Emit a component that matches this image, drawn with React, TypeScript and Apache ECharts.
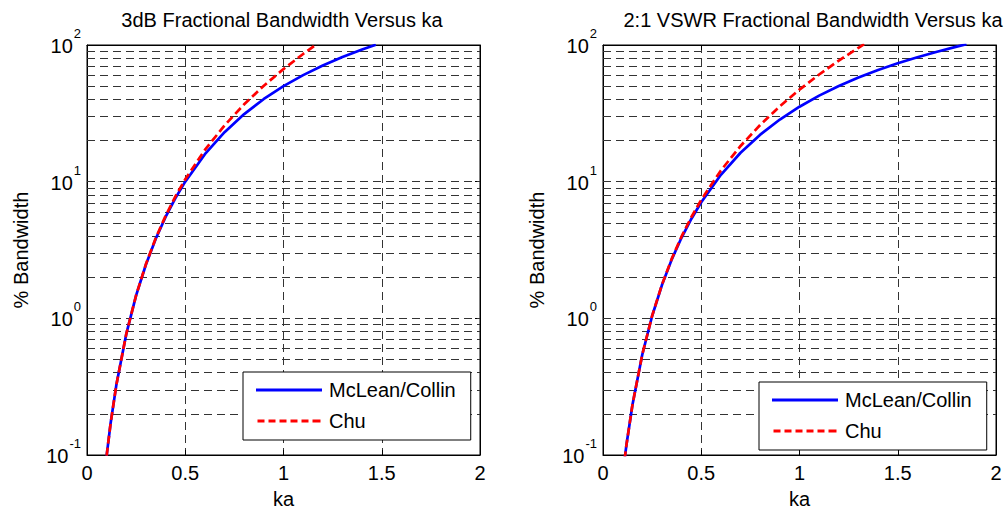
import React, { useEffect, useRef } from "react";
import * as echarts from "echarts";

const titles = ["3dB Fractional Bandwidth Versus ka", "2:1 VSWR Fractional Bandwidth Versus ka"];
const seriesNames = ["McLean/Collin", "Chu"];
const xAxisName = "ka";
const yAxisName = "% Bandwidth";

// Left panel: 3 dB fractional bandwidth (%)
const kaLeftMcLean = [0.1, 0.12, 0.15, 0.2, 0.25, 0.3, 0.35, 0.4, 0.45, 0.5, 0.6, 0.7, 0.8, 0.9, 1.0, 1.1, 1.2, 1.3, 1.4, 1.47];
const bwLeftMcLean = [0.099, 0.17, 0.33, 0.769, 1.471, 2.477, 3.82, 5.517, 7.578, 10.0, 15.88, 23.02, 31.22, 40.27, 50.0, 60.23, 70.82, 81.67, 92.7, 100.5];
const kaLeftChu = [0.1, 0.12, 0.15, 0.2, 0.25, 0.3, 0.35, 0.4, 0.45, 0.5, 0.6, 0.7, 0.8, 0.9, 1.0, 1.1, 1.17];
const bwLeftChu = [0.099, 0.17, 0.33, 0.77, 1.476, 2.494, 3.866, 5.624, 7.8, 10.42, 17.08, 25.81, 36.83, 50.36, 66.67, 86.01, 101.5];

// Right panel: 2:1 VSWR fractional bandwidth (%)
const kaRightMcLean = [0.11, 0.12, 0.15, 0.2, 0.25, 0.3, 0.35, 0.4, 0.45, 0.5, 0.6, 0.7, 0.8, 0.9, 1.0, 1.1, 1.2, 1.3, 1.4, 1.5, 1.6, 1.7, 1.8, 1.85];
const bwRightMcLean = [0.093, 0.1205, 0.2334, 0.5439, 1.04, 1.752, 2.701, 3.901, 5.358, 7.071, 11.23, 16.28, 22.08, 28.48, 35.36, 42.59, 50.08, 57.75, 65.55, 73.43, 81.36, 89.3, 97.26, 101.2];
const kaRightChu = [0.11, 0.12, 0.15, 0.2, 0.25, 0.3, 0.35, 0.4, 0.45, 0.5, 0.6, 0.7, 0.8, 0.9, 1.0, 1.1, 1.2, 1.3, 1.33];
const bwRightChu = [0.093, 0.1205, 0.2335, 0.5448, 1.0435, 1.764, 2.733, 3.977, 5.516, 7.366, 12.08, 18.25, 26.04, 35.61, 47.14, 60.82, 76.84, 95.41, 101.5];

// Log grid lines (minor + major inside the box)
const yGridValues = [0.2, 0.3, 0.4, 0.5, 0.6, 0.7, 0.8, 0.9, 1, 2, 3, 4, 5, 6, 7, 8, 9, 10, 20, 30, 40, 50, 60, 70, 80, 90];
const xMin = 0;
const xMax = 2;
const xInterval = 0.5;
const yMin = 0.1;
const yMax = 100;

const FONT = "'Liberation Sans', Arial, Helvetica, sans-serif";
const FS = 20;

const SOLID_ICON = "path://M0 0H66V3H0Z";
const DASH_ICON = "path://M0 0H7V3H0Z M11 0H18V3H11Z M22 0H29V3H22Z M33 0H40V3H33Z M44 0H51V3H44Z M55 0H63V3H55Z";

const zip = (xs: number[], ys: number[]) => xs.map((x, i) => [x, ys[i]]);

export default function App() {
  const ref = useRef<HTMLDivElement>(null);
  useEffect(() => {
    if (!ref.current) return;
    const chart = echarts.init(ref.current, undefined, { renderer: "svg" });

    const grids = [
      { left: 87, top: 45, width: 393, height: 412 },
      { left: 603, top: 45, width: 393, height: 412 },
    ];

    const yLabel = {
      margin: 6,
      color: "#000",
      fontFamily: FONT,
      showMinLabel: true,
      showMaxLabel: true,
      formatter: (v: number) => {
        const e = Math.round(Math.log10(v));
        return `{b|10}{s|${e}}`;
      },
      rich: {
        b: { fontSize: FS, fontFamily: FONT, color: "#000", padding: [0, 0, 7, 0], verticalAlign: "bottom" },
        s: { fontSize: 13, fontFamily: FONT, color: "#000", padding: [0, 0, 23, 1], verticalAlign: "top" },
      },
    };

    const xAxes: any[] = [];
    const yAxes: any[] = [];
    [0, 1].forEach((g) => {
      xAxes.push({
        type: "value",
        gridIndex: g,
        min: xMin,
        max: xMax,
        interval: xInterval,
        name: xAxisName,
        nameLocation: "middle",
        nameGap: 34,
        nameTextStyle: { fontSize: FS, fontFamily: FONT, color: "#000" },
        axisLine: { show: true, onZero: false, lineStyle: { color: "#000", width: 1 } },
        axisTick: { show: true, inside: true, length: 5, lineStyle: { color: "#000" } },
        axisLabel: { margin: 8, fontSize: FS, fontFamily: FONT, color: "#000" },
        splitLine: { show: true, lineStyle: { type: [8, 5], color: "#333", width: 1 } },
      });
      yAxes.push({
        type: "log",
        logBase: 10,
        gridIndex: g,
        min: yMin,
        max: yMax,
        name: yAxisName,
        nameLocation: "middle",
        nameGap: 56,
        nameTextStyle: { fontSize: FS, fontFamily: FONT, color: "#000" },
        axisLine: { show: true, onZero: false, lineStyle: { color: "#000", width: 1 } },
        axisTick: { show: true, inside: true, length: 5, lineStyle: { color: "#000" } },
        axisLabel: yLabel,
        splitLine: { show: false },
        minorTick: { show: false },
      });
    });
    // mirrored axes (top / right) for ticks only
    [0, 1].forEach((g) => {
      xAxes.push({
        type: "value",
        gridIndex: g,
        position: "top",
        min: xMin,
        max: xMax,
        interval: xInterval,
        axisLine: { show: true, onZero: false, lineStyle: { color: "#000", width: 1 } },
        axisTick: { show: true, inside: true, length: 5, lineStyle: { color: "#000" } },
        axisLabel: { show: false },
        splitLine: { show: false },
      });
      yAxes.push({
        type: "log",
        logBase: 10,
        gridIndex: g,
        position: "right",
        min: yMin,
        max: yMax,
        axisLine: { show: true, onZero: false, lineStyle: { color: "#000", width: 1 } },
        axisTick: { show: true, inside: true, length: 5, lineStyle: { color: "#000" } },
        axisLabel: { show: false },
        splitLine: { show: false },
      });
    });

    const gridLineSeries = (g: number) => ({
      type: "line",
      name: "grid" + g,
      xAxisIndex: g,
      yAxisIndex: g,
      data: [],
      z: 1,
      silent: true,
      markLine: {
        z: 1,
        silent: true,
        symbol: ["none", "none"],
        label: { show: false },
        emphasis: { disabled: true },
        lineStyle: { type: [8, 5], color: "#333", width: 1 },
        data: yGridValues.map((v) => ({ yAxis: v })),
      },
    });

    const curve = (g: number, name: string, data: number[][], color: string, dashed: boolean) => ({
      type: "line",
      name,
      xAxisIndex: g,
      yAxisIndex: g,
      data,
      z: 3,
      symbol: "none",
      showSymbol: false,
      clip: true,
      smooth: false,
      lineStyle: { color, width: 2.7, type: dashed ? [8, 4] : "solid" },
      itemStyle: { color },
    });

    const legendBase = {
      orient: "vertical",
      backgroundColor: "#fff",
      borderColor: "#000",
      borderWidth: 1,
      borderRadius: 0,
      itemWidth: 66,
      itemHeight: 3,
      itemGap: 11,
      padding: [8, 15, 9, 13],
      textStyle: { fontSize: FS, fontFamily: FONT, color: "#000", lineHeight: 20, padding: [0, 0, 0, 2] },
      data: [
        { name: seriesNames[0], icon: SOLID_ICON },
        { name: seriesNames[1], icon: DASH_ICON },
      ],
      selectedMode: false,
    };

    chart.setOption({
      animation: false,
      backgroundColor: "#fff",
      title: [
        { text: titles[0], left: 282, top: 10, textAlign: "center", padding: 0, textStyle: { fontSize: FS, fontWeight: "normal", fontFamily: FONT, color: "#000" } },
        { text: titles[1], left: 813, top: 10, textAlign: "center", padding: 0, textStyle: { fontSize: FS, fontWeight: "normal", fontFamily: FONT, color: "#000" } },
      ],
      legend: [
        { ...legendBase, left: 243, top: 372 },
        { ...legendBase, left: 759, top: 382 },
      ],
      grid: grids.map((gr) => ({ ...gr, show: true, borderColor: "#000", borderWidth: 1, backgroundColor: "#fff", containLabel: false })),
      xAxis: xAxes,
      yAxis: yAxes,
      series: [
        gridLineSeries(0),
        gridLineSeries(1),
        curve(0, seriesNames[0], zip(kaLeftMcLean, bwLeftMcLean), "#0000ff", false),
        curve(0, seriesNames[1], zip(kaLeftChu, bwLeftChu), "#ff0000", true),
        curve(1, seriesNames[0], zip(kaRightMcLean, bwRightMcLean), "#0000ff", false),
        curve(1, seriesNames[1], zip(kaRightChu, bwRightChu), "#ff0000", true),
      ],
    });
    return () => chart.dispose();
  }, []);
  return <div ref={ref} style={{ position: "fixed", left: 0, top: 0, width: 1008, height: 514 }} />;
}
